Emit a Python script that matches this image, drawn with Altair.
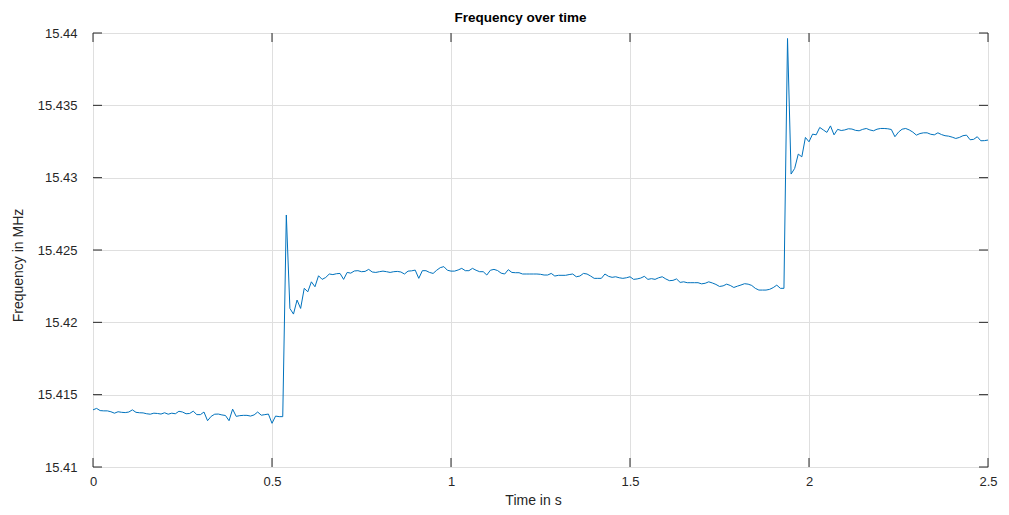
import altair as alt
import pandas as pd

# Frequency samples (MHz), one every 0.01 s from 0 to 2.5 s
freq_seg1 = [
    15.41395, 15.41405, 15.41390, 15.41388, 15.41388, 15.41382, 15.41372, 15.41382, 15.41378, 15.41376,
    15.41380, 15.41395, 15.41378, 15.41375, 15.41374, 15.41368, 15.41365, 15.41372, 15.41370, 15.41366,
    15.41375, 15.41365, 15.41372, 15.41368, 15.41385, 15.41380, 15.41368, 15.41370, 15.41386, 15.41362,
    15.41362, 15.41380, 15.41320, 15.41350, 15.41365, 15.41366, 15.41360, 15.41356, 15.41320, 15.41400,
    15.41350, 15.41355, 15.41357, 15.41357, 15.41352, 15.41360, 15.41380, 15.41358, 15.41362, 15.41366,
    15.41302, 15.41352, 15.41348, 15.41348,
]
freq_seg2 = [
    15.42742, 15.42096, 15.42057, 15.42154, 15.42096, 15.42235, 15.42211, 15.42280, 15.42246, 15.42322,
    15.42297, 15.42310, 15.42334, 15.42330, 15.42336, 15.42338, 15.42297, 15.42345, 15.42340, 15.42355,
    15.42357, 15.42350, 15.42352, 15.42366, 15.42348, 15.42345, 15.42350, 15.42354, 15.42350, 15.42345,
    15.42350, 15.42352, 15.42348, 15.42334, 15.42354, 15.42356, 15.42361, 15.42304, 15.42357, 15.42357,
    15.42345, 15.42338, 15.42360, 15.42378, 15.42385, 15.42360, 15.42354, 15.42354, 15.42362, 15.42373,
    15.42357,
]
freq_seg3 = [
    15.42357, 15.42373, 15.42360, 15.42350, 15.42350, 15.42327, 15.42360, 15.42366, 15.42358, 15.42340,
    15.42334, 15.42364, 15.42345, 15.42343, 15.42343, 15.42334, 15.42334, 15.42334, 15.42334, 15.42334,
    15.42332, 15.42327, 15.42327, 15.42338, 15.42320, 15.42325, 15.42325, 15.42325, 15.42330, 15.42334,
    15.42315, 15.42320, 15.42338, 15.42334, 15.42320, 15.42304, 15.42304, 15.42304, 15.42334, 15.42318,
    15.42311, 15.42315, 15.42308, 15.42304, 15.42308, 15.42315, 15.42297, 15.42300, 15.42306,
]
freq_seg4 = [
    15.42318, 15.42297, 15.42302, 15.42297, 15.42308, 15.42315, 15.42300, 15.42288, 15.42290, 15.42300,
    15.42276, 15.42280, 15.42274, 15.42274, 15.42274, 15.42274, 15.42266, 15.42270, 15.42280, 15.42272,
    15.42262, 15.42248, 15.42252, 15.42264, 15.42255, 15.42241, 15.42250, 15.42258, 15.42267, 15.42264,
    15.42255, 15.42235, 15.42223, 15.42223, 15.42223, 15.42228, 15.42240, 15.42257, 15.42235, 15.42235,
]
freq_seg5 = [
    15.43962, 15.43025, 15.43064, 15.43163, 15.43144, 15.43278, 15.43248, 15.43301, 15.43296, 15.43347,
    15.43330, 15.43313, 15.43358, 15.43296, 15.43334, 15.43326, 15.43330, 15.43338, 15.43336, 15.43327,
    15.43324, 15.43334, 15.43340, 15.43330, 15.43324, 15.43335, 15.43340, 15.43340, 15.43338, 15.43333,
    15.43283, 15.43315, 15.43335, 15.43340, 15.43330, 15.43315, 15.43294, 15.43305, 15.43310, 15.43310,
    15.43300, 15.43296, 15.43310, 15.43298, 15.43290, 15.43287, 15.43280, 15.43271, 15.43278, 15.43290,
    15.43294, 15.43262, 15.43265, 15.43283, 15.43255, 15.43256, 15.43260,
]
freq = freq_seg1 + freq_seg2 + freq_seg3 + freq_seg4 + freq_seg5
time_step = 0.01
time = [round(i * time_step, 2) for i in range(len(freq))]

x_ticks = [0, 0.5, 1, 1.5, 2, 2.5]
y_ticks = [15.41, 15.415, 15.42, 15.425, 15.43, 15.435, 15.44]
title_text = "Frequency over time"

W, H = 895, 434
TXT = "#262626"
FONT = "Liberation Sans"
TL = 9  # inward tick length

df = pd.DataFrame({"t": time, "f": freq})
dfx = pd.DataFrame({"t": x_ticks})
dfy = pd.DataFrame({"f": y_ticks})

xscale = alt.Scale(domain=[0, 2.5], nice=False, zero=False)
yscale = alt.Scale(domain=[15.41, 15.44], nice=False, zero=False)

xaxis = alt.Axis(
    values=x_ticks, format="~g", title="Time in s", grid=True, ticks=False, domain=False,
    labelPadding=8, labelFontSize=13, labelColor=TXT, labelFont=FONT,
    titleFontSize=14, titleColor=TXT, titleFont=FONT, titleFontWeight="normal",
    titleX=440, titleY=37, titleAlign="center", titleBaseline="alphabetic",
    gridColor="#dfdfdf", gridWidth=1, labelFlush=False,
)
yaxis = alt.Axis(
    values=y_ticks, format=".5~g", title="Frequency in MHz", grid=True, ticks=False, domain=False,
    labelPadding=16, labelFontSize=13, labelColor=TXT, labelFont=FONT,
    titleFontSize=14, titleColor=TXT, titleFont=FONT, titleFontWeight="normal",
    titleX=-75, titleY=232, titleAlign="center", titleBaseline="middle", titleAngle=-90,
    gridColor="#dfdfdf", gridWidth=1, labelFlush=False,
)

X = alt.X("t:Q", scale=xscale, axis=xaxis)
Y = alt.Y("f:Q", scale=yscale, axis=yaxis)

line = alt.Chart(df).mark_line(color="#0072BD", strokeWidth=1).encode(x=X, y=Y)

xt_bottom = alt.Chart(dfx).mark_rule(color=TXT, strokeWidth=1).encode(
    x=X, y=alt.value(H), y2=alt.value(H - TL))
xt_top = alt.Chart(dfx).mark_rule(color=TXT, strokeWidth=1).encode(
    x=X, y=alt.value(0), y2=alt.value(TL))
yt_left = alt.Chart(dfy).mark_rule(color=TXT, strokeWidth=1).encode(
    y=Y, x=alt.value(0), x2=alt.value(TL))
yt_right = alt.Chart(dfy).mark_rule(color=TXT, strokeWidth=1).encode(
    y=Y, x=alt.value(W), x2=alt.value(W - TL))

title = alt.Chart(pd.DataFrame({"label": [title_text]})).mark_text(
    font=FONT, fontSize=13.5, fontWeight="bold", color="#000000",
    align="center", baseline="alphabetic",
).encode(text="label:N", x=alt.value(W / 2 - 20), y=alt.value(-11))

chart = alt.layer(line, xt_bottom, xt_top, yt_left, yt_right, title).properties(
    width=W, height=H,
    autosize=alt.AutoSizeParams(type="none"),
    padding={"left": 85, "top": 25, "right": 13, "bottom": 40},
).configure_view(stroke=TXT, strokeWidth=1).configure(background="white")

chart.save("out.html", embed_options={"renderer": "svg", "actions": False})
